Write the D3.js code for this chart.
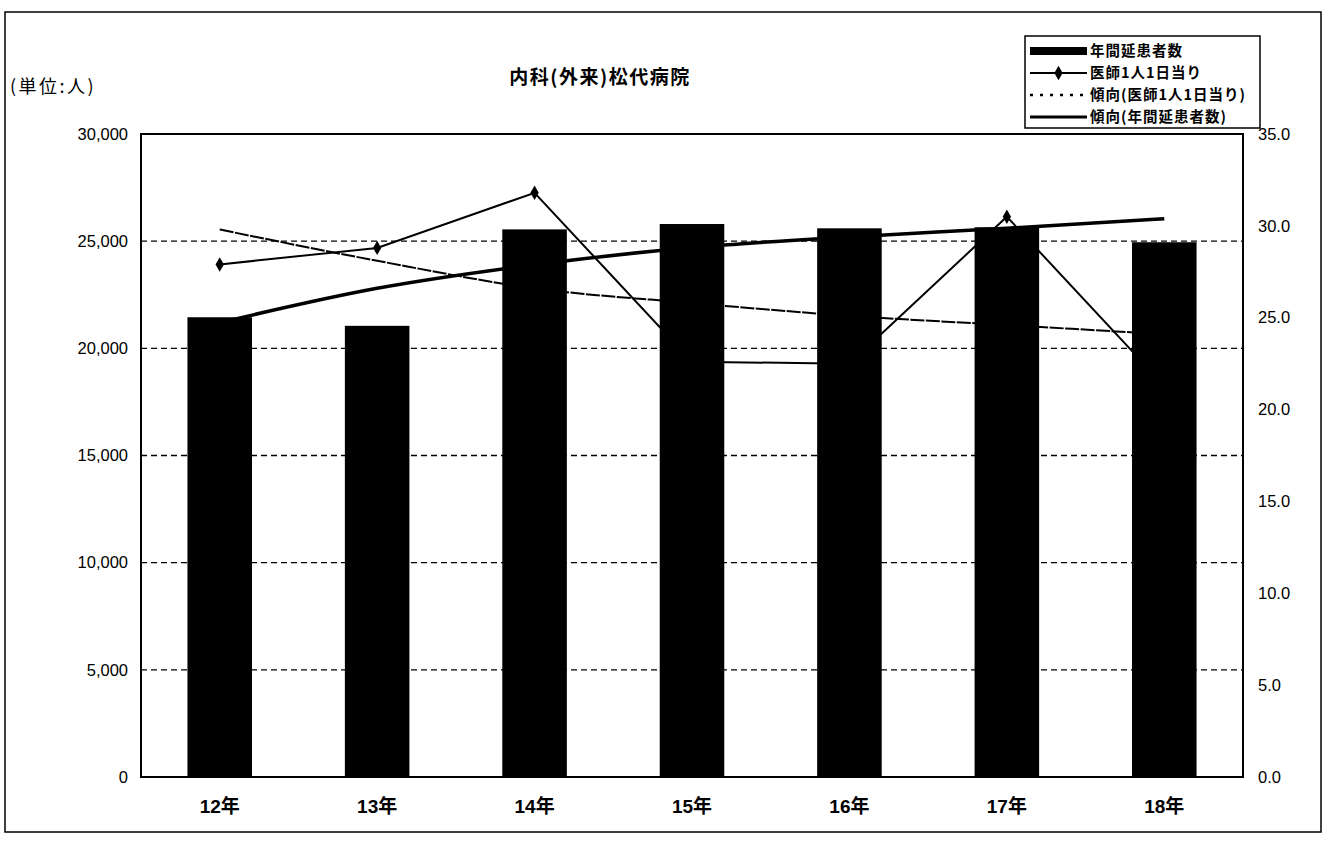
<!DOCTYPE html>
<html>
<head>
<meta charset="utf-8">
<script src="https://cdn.jsdelivr.net/npm/d3@7"></script>
<style>
  body { margin: 0; background: #fff; }
  svg { display: block; }
</style>
</head>
<body>
<svg id="chart" width="1331" height="843"></svg>
<script>
// values
const years = ["12年", "13年", "14年", "15年", "16年", "17年", "18年"]
const patients = [21450, 21050, 25550, 25800, 25600, 25650, 24950]       // 年間延患者数 (left axis)
const perDoctor = [27.9, 28.8, 31.8, 22.6, 22.5, 30.5, 21.3]             // 医師1人1日当り (right axis)
const perDoctorTrend = [29.8, 28.1, 26.6, 25.8, 25.1, 24.6, 24.1]        // 傾向(医師1人1日当り)
const patientsTrend = [21200, 22800, 23900, 24700, 25200, 25600, 26050]  // 傾向(年間延患者数)
const leftTicks = [0, 5000, 10000, 15000, 20000, 25000, 30000]
const rightTicks = [0, 5, 10, 15, 20, 25, 30, 35]
const legendLabels = ["年間延患者数", "医師1人1日当り", "傾向(医師1人1日当り)", "傾向(年間延患者数)"]

class ComboChart {
    constructor() {
        this.width = 1331
        this.height = 843
        this.plot = {left: 141, right: 1243, top: 134, bottom: 777}
        this.setup()
        this.drawChart()
    }

    setup() {
        const p = this.plot
        this.x = d3.scaleBand()
            .domain(years)
            .range([p.left, p.right])
            .paddingInner(0.59)
            .paddingOuter(0.295)
        this.yLeft = d3.scaleLinear().domain([0, 30000]).range([p.bottom, p.top])
        this.yRight = d3.scaleLinear().domain([0, 35]).range([p.bottom, p.top])
        this.cx = d => this.x(d) + this.x.bandwidth() / 2
        this.jpFont = "'Noto Sans CJK JP', sans-serif"
        this.numFont = "'Liberation Sans', Arial, 'Noto Sans CJK JP', sans-serif"
    }

    drawChart() {
        const svg = d3.select("#chart")
        const p = this.plot

        // outer chart frame
        svg.append("rect")
            .attr("x", 5).attr("y", 12)
            .attr("width", 1316).attr("height", 820)
            .attr("fill", "#fff")
            .attr("stroke", "#000")
            .attr("stroke-width", 1.5)

        // dashed gridlines
        svg.append("g")
            .selectAll("line")
            .data(leftTicks.filter(d => d > 0 && d < 30000))
            .join("line")
            .attr("x1", p.left).attr("x2", p.right)
            .attr("y1", d => this.yLeft(d)).attr("y2", d => this.yLeft(d))
            .attr("stroke", "#000")
            .attr("stroke-width", 1.3)
            .attr("stroke-dasharray", "6,4")

        // lines sit behind the bars in the original
        const lineLeft = d3.line()
            .x((d, i) => this.cx(years[i]))
            .y(d => this.yLeft(d))
            .curve(d3.curveMonotoneX)
        const lineRight = d3.line()
            .x((d, i) => this.cx(years[i]))
            .y(d => this.yRight(d))

        svg.append("path")
            .attr("d", lineRight.curve(d3.curveMonotoneX)(perDoctorTrend))
            .attr("fill", "none")
            .attr("stroke", "#000")
            .attr("stroke-width", 2)
            .attr("stroke-dasharray", "14,1.5")

        svg.append("path")
            .attr("d", lineLeft(patientsTrend))
            .attr("fill", "none")
            .attr("stroke", "#000")
            .attr("stroke-width", 3.5)

        svg.append("path")
            .attr("d", d3.line()
                .x((d, i) => this.cx(years[i]))
                .y(d => this.yRight(d))(perDoctor))
            .attr("fill", "none")
            .attr("stroke", "#000")
            .attr("stroke-width", 2)

        svg.append("g")
            .selectAll("path")
            .data(perDoctor)
            .join("path")
            .attr("transform", (d, i) => `translate(${this.cx(years[i])},${this.yRight(d)})`)
            .attr("d", d3.symbol(d3.symbolDiamond, 60))
            .attr("fill", "#000")

        // bars
        svg.append("g")
            .selectAll("rect")
            .data(patients)
            .join("rect")
            .attr("x", (d, i) => this.x(years[i]))
            .attr("y", d => this.yLeft(d))
            .attr("width", this.x.bandwidth())
            .attr("height", d => this.yLeft(0) - this.yLeft(d))
            .attr("fill", "#000")

        // plot area border
        svg.append("rect")
            .attr("x", p.left).attr("y", p.top)
            .attr("width", p.right - p.left).attr("height", p.bottom - p.top)
            .attr("fill", "none")
            .attr("stroke", "#000")
            .attr("stroke-width", 2)

        // axes
        const axL = svg.append("g")
            .attr("transform", `translate(${p.left},0)`)
            .call(d3.axisLeft(this.yLeft).tickValues(leftTicks).tickSize(0).tickPadding(13).tickFormat(d3.format(",")))
        const axR = svg.append("g")
            .attr("transform", `translate(${p.right},0)`)
            .call(d3.axisRight(this.yRight).tickValues(rightTicks).tickSize(0).tickPadding(15).tickFormat(d3.format(".1f")))
        const axB = svg.append("g")
            .attr("transform", `translate(0,${p.bottom})`)
            .call(d3.axisBottom(this.x).tickSize(0).tickPadding(23))
        for (const ax of [axL, axR, axB]) {
            ax.select(".domain").remove()
            ax.selectAll("text")
                .attr("fill", "#000")
                .attr("font-size", 16.5)
                .attr("font-family", this.numFont)
        }
        axB.selectAll("text")
            .attr("font-size", 19)
            .attr("font-weight", "bold")

        // title and unit
        svg.append("text")
            .attr("x", 600).attr("y", 84)
            .attr("text-anchor", "middle")
            .attr("font-family", this.jpFont)
            .attr("font-size", 19)
            .attr("letter-spacing", 1.5)
            .attr("font-weight", "bold")
            .text("内科(外来)松代病院")

        svg.append("text")
            .attr("x", 10).attr("y", 93)
            .attr("font-family", this.jpFont)
            .attr("font-size", 18)
            .attr("letter-spacing", 2.5)
            .text("(単位:人)")

        this.drawLegend(svg)
    }

    drawLegend(svg) {
        const lg = svg.append("g")
        lg.append("rect")
            .attr("x", 1025).attr("y", 36)
            .attr("width", 235).attr("height", 92)
            .attr("fill", "#fff")
            .attr("stroke", "#000")
            .attr("stroke-width", 1.5)

        const rowY = [51, 73, 95, 117]
        const x0 = 1030, x1 = 1087

        lg.append("rect")
            .attr("x", x0).attr("y", rowY[0] - 4)
            .attr("width", x1 - x0).attr("height", 8)
            .attr("fill", "#000")

        lg.append("line")
            .attr("x1", x0).attr("x2", x1)
            .attr("y1", rowY[1]).attr("y2", rowY[1])
            .attr("stroke", "#000").attr("stroke-width", 2)
        lg.append("path")
            .attr("transform", `translate(${(x0 + x1) / 2},${rowY[1]})`)
            .attr("d", d3.symbol(d3.symbolDiamond, 60))
            .attr("fill", "#000")

        lg.append("line")
            .attr("x1", x0).attr("x2", x1)
            .attr("y1", rowY[2]).attr("y2", rowY[2])
            .attr("stroke", "#000").attr("stroke-width", 2.5)
            .attr("stroke-dasharray", "3,7")

        lg.append("line")
            .attr("x1", x0).attr("x2", x1)
            .attr("y1", rowY[3]).attr("y2", rowY[3])
            .attr("stroke", "#000").attr("stroke-width", 3)

        lg.append("g")
            .selectAll("text")
            .data(legendLabels)
            .join("text")
            .attr("x", 1090)
            .attr("y", (d, i) => rowY[i])
            .attr("dy", "0.35em")
            .attr("font-family", this.jpFont)
            .attr("font-size", 14.5)
            .attr("letter-spacing", 1)
            .attr("font-weight", "bold")
            .text(d => d)
    }
}

new ComboChart()
</script>
</body>
</html>
